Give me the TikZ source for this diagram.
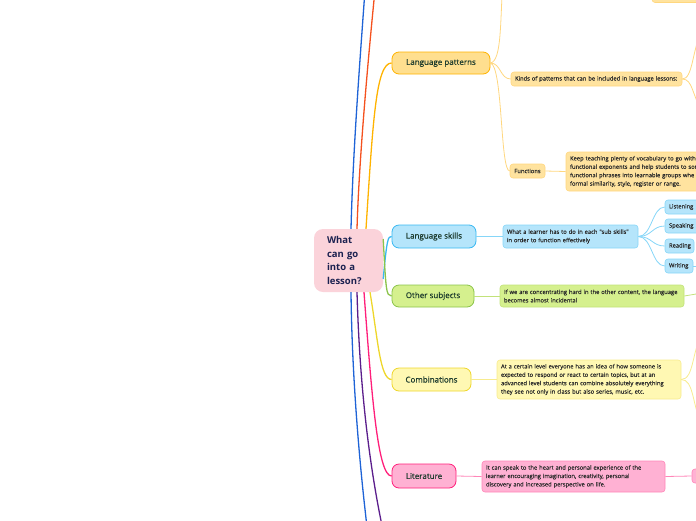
\documentclass[tikz,border=0pt]{standalone}
\usepackage{fontspec}
\setmainfont{Open Sans}
\newfontfamily\medfont{Open Sans}[FakeBold=0.6]
\newfontfamily\smallfont{Open Sans}[FakeBold=0.25]
\definecolor{cBlue}{HTML}{1E63D6}
\definecolor{cOrange}{HTML}{F4511E}
\definecolor{cGold}{HTML}{FFB300}
\definecolor{cGoldL}{HTML}{FFD77F}
\definecolor{cGoldF}{HTML}{FFDF8F}
\definecolor{cGoldF2}{HTML}{FFE39F}
\definecolor{cSky}{HTML}{38B8F2}
\definecolor{cSkyL}{HTML}{86D6F8}
\definecolor{cSkyF}{HTML}{B5E5FB}
\definecolor{cGreen}{HTML}{8BC34A}
\definecolor{cGreenL}{HTML}{C2E27A}
\definecolor{cGreenF}{HTML}{D5F08E}
\definecolor{cYel}{HTML}{EED62A}
\definecolor{cYelL}{HTML}{F7EB8E}
\definecolor{cYelF}{HTML}{FFF8B3}
\definecolor{cMag}{HTML}{FF1F7A}
\definecolor{cMagL}{HTML}{FF86B8}
\definecolor{cMagF}{HTML}{FFB1D3}
\definecolor{cPurp}{HTML}{5B1E8C}
\definecolor{cCenter}{HTML}{FBD3DA}
\definecolor{cTopic}{HTML}{1B3A2C}
\definecolor{cNavy}{HTML}{1B2150}
\definecolor{cSmall}{HTML}{2A2A2A}
\tikzset{
  maintopic/.style={draw, rounded corners=7pt, line width=0.8pt, inner sep=0pt, align=center,
     font=\medfont\fontsize{8}{9}\selectfont, text=cTopic},
  subbox/.style={draw, rounded corners=3pt, line width=0.6pt, inner xsep=4pt, inner ysep=0pt,
     align=left, font=\smallfont\fontsize{5.8}{8.4}\selectfont, text=cSmall},
  mainline/.style={line width=1.3pt},
  subline/.style={line width=0.8pt},
}
\begin{document}
\begin{tikzpicture}[x=1pt,y=-1pt]
\useasboundingbox (0,0) rectangle (696,520);
\clip (0,0) rectangle (696,520);
% ---------- centre ----------
\node[fill=cCenter, rounded corners=9pt, minimum width=69, minimum height=63, inner xsep=13pt,
      text width=43pt, align=left, font=\fontsize{9.5}{13.5}\selectfont\bfseries, text=cNavy]
      (center) at (348.5,260.5) {What\\can go\\into a\\lesson?};
% free ends
\coordinate (blueTop) at (365,-10);
\coordinate (orangeTop) at (375,-10);
\coordinate (blueBot) at (368,535);
\coordinate (purpBot) at (384,535);
% ---------- main topics ----------
\node[maintopic, fill=cGoldF, draw=cGold, minimum width=98, minimum height=22] (lp) at (441,63) {Language patterns};
\node[maintopic, fill=cSkyF, draw=cSky, minimum width=84, minimum height=23] (ls) at (434,236.5) {Language skills};
\node[maintopic, fill=cGreenF, draw=cGreen, minimum width=82, minimum height=22] (os) at (433,296) {Other subjects};
\node[maintopic, fill=cYelF, draw=cYel, minimum width=79, minimum height=23] (co) at (431.5,379.5) {Combinations};
\node[maintopic, fill=cMagF, draw=cMag, minimum width=64, minimum height=24] (li) at (424,476) {Literature};
% ---------- main connectors ----------
\draw[mainline, cBlue] ([xshift=2.5pt]center.north) .. controls (353,150) and (360,60) .. (blueTop);
\draw[mainline, cOrange] ([xshift=8.5pt]center.north) .. controls (359,160) and (368,60) .. (orangeTop);
\draw[mainline, cGold] ([xshift=17.5pt]center.north) .. controls (373,120) and (376,63) .. (lp.west);
\draw[mainline, cSky] ([yshift=-18.5pt]center.east) .. controls (387,238) and (388,236.5) .. (ls.west);
\draw[mainline, cGreen] ([yshift=21.5pt]center.east) .. controls (386,290) and (386,296) .. (os.west);
\draw[mainline, cYel] ([xshift=21.5pt]center.south) .. controls (378,340) and (380,379.5) .. (co.west);
\draw[mainline, cMag] ([xshift=15.5pt]center.south) .. controls (372,400) and (378,476) .. (li.west);
\draw[mainline, cPurp] ([xshift=8.5pt]center.south) .. controls (360,400) and (372,480) .. (purpBot);
\draw[mainline, cBlue] ([xshift=2.5pt]center.south) .. controls (352,380) and (360,470) .. (blueBot);
% ---------- language patterns children ----------
\node[subbox, fill=cGoldF2, draw=cGoldL, minimum width=120, minimum height=30] (topbox) at (712,-12.5) {};
\node[subbox, fill=cGoldF2, draw=cGoldL, text width=163pt, minimum height=14] (kinds) at (596.5,79)
   {Kinds of patterns that can be included in language lessons:};
\node[subbox, fill=cGoldF2, draw=cGoldL, minimum width=35, minimum height=14, align=center] (func) at (527.5,171) {Functions};
\node[subbox, fill=cGoldF2, draw=cGoldL, text width=152pt, minimum height=39] (funcd) at (646,171.5)
   {Keep teaching plenty of vocabulary to go with\\functional exponents and help students to sor\\functional phrases into learnable groups whe\\formal similarity, style, register or range.};
\coordinate (lpUp) at (503,-20);
\coordinate (kUp) at (702,30);
\coordinate (kDown) at (702,110);
\draw[subline, cGoldL] (lp.east) .. controls (502,61) and (500,20) .. (lpUp);
\draw[subline, cGoldL] (lp.east) .. controls (501,63) and (500,79) .. (kinds.west);
\draw[subline, cGoldL] (lp.east) .. controls (503,66) and (500,171) .. (func.west);
\draw[subline, cGoldL] (func.east) -- (funcd.west);
\draw[subline, cGoldL] (kinds.east) .. controls (693,79) and (692,50) .. (kUp);
\draw[subline, cGoldL] (kinds.east) .. controls (693,79) and (692,96) .. (kDown);
% ---------- language skills children ----------
\node[subbox, fill=cSkyF, draw=cSkyL, text width=127pt, minimum height=23] (lsd) at (570.5,236.5)
   {What a learner has to do in each "sub skills"\\in order to function effectively};
\node[subbox, fill=cSkyF, draw=cSkyL, text width=32pt, minimum height=14] (lis) at (685,207) {Listening};
\node[subbox, fill=cSkyF, draw=cSkyL, text width=32pt, minimum height=14] (spe) at (685,226) {Speaking};
\node[subbox, fill=cSkyF, draw=cSkyL, text width=21pt, minimum height=14] (rea) at (679.5,246) {Reading};
\node[subbox, fill=cSkyF, draw=cSkyL, text width=20pt, minimum height=14] (wri) at (679,266) {Writing};
\coordinate (wriOut) at (702,266);
\draw[subline, cSkyL] (ls.east) -- (lsd.west);
\draw[subline, cSkyL] (lsd.east) .. controls (652,236.5) and (652,207) .. (lis.west);
\draw[subline, cSkyL] (lsd.east) .. controls (652,236.5) and (652,226) .. (spe.west);
\draw[subline, cSkyL] (lsd.east) .. controls (652,236.5) and (652,246) .. (rea.west);
\draw[subline, cSkyL] (lsd.east) .. controls (652,236.5) and (652,266) .. (wri.west);
\draw[subline, cSkyL] (wri.east) -- (wriOut);
% ---------- other subjects ----------
\node[subbox, fill=cGreenF, draw=cGreenL, text width=176pt, minimum height=22] (osd) at (592,296)
   {If we are concentrating hard in the other content, the language\\becomes almost incidental};
\coordinate (osOut) at (702,293);
\draw[subline, cGreenL] (os.east) -- (osd.west);
\draw[subline, cGreenL] (osd.east) -- (osOut);
% ---------- combinations ----------
\node[subbox, fill=cYelF, draw=cYelL, text width=176pt, minimum height=39] (cod) at (589,379.5)
   {At a certain level everyone has an idea of how someone is\\expected to respond or react to certain topics, but at an\\advanced level students can combine absolutely everything\\they see not only in class but also series, music, etc.};
\coordinate (coUp) at (702,335);
\coordinate (coDown) at (702,425);
\draw[subline, cYelL] (co.east) -- (cod.west);
\draw[subline, cYelL] (cod.east) .. controls (694,379.5) and (692,350) .. (coUp);
\draw[subline, cYelL] (cod.east) .. controls (694,379.5) and (692,405) .. (coDown);
% ---------- literature ----------
\node[subbox, fill=cMagF, draw=cMagL, text width=175pt, minimum height=31] (lid) at (573.5,476.5)
   {It can speak to the heart and personal experience of the\\learner encouraging imagination, creativity, personal\\discovery and increased perspective on life.};
\node[subbox, fill=cMagF, draw=cMagL, minimum width=40, minimum height=14] (lic) at (712,476) {};
\draw[subline, cMagL] (li.east) -- (lid.west);
\draw[subline, cMagL] (lid.east) -- (lic.west);
\end{tikzpicture}
\end{document}
